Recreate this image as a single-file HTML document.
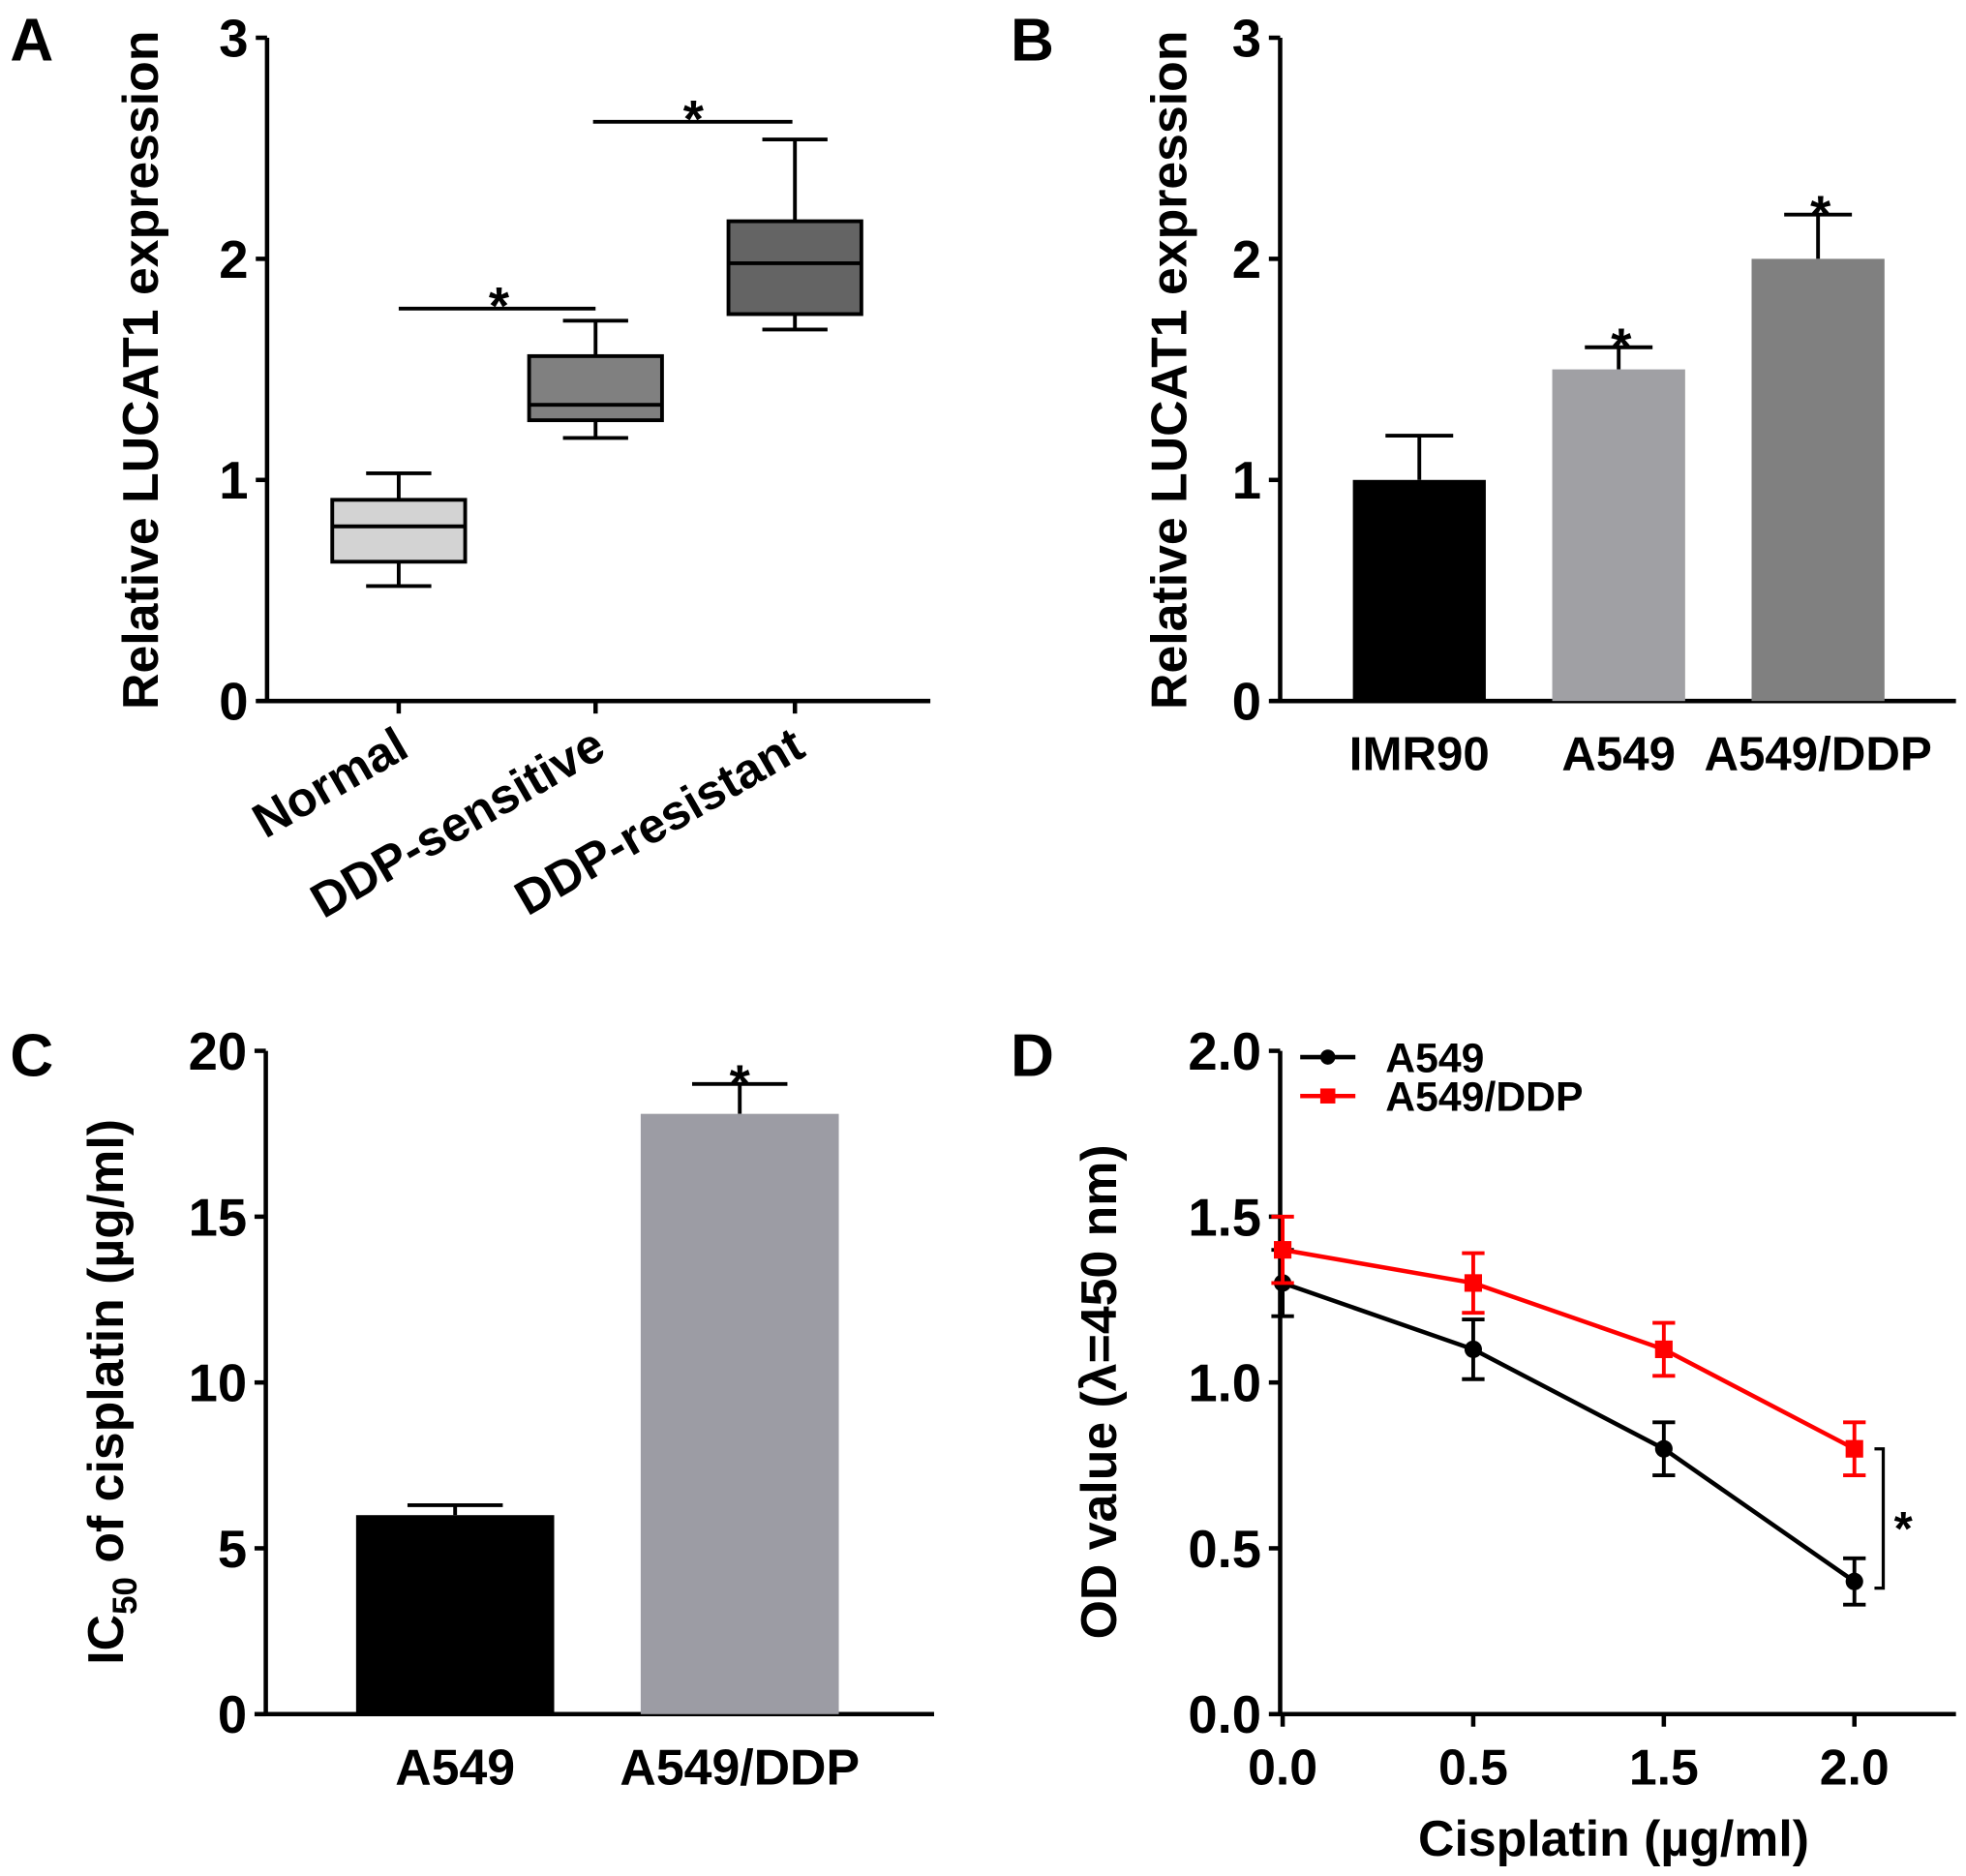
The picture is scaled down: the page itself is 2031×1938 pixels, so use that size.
<!DOCTYPE html>
<html><head><meta charset="utf-8"><style>
html,body{margin:0;padding:0;background:#fff;}
svg{display:block;font-family:"Liberation Sans",Arial,sans-serif;font-weight:bold;}
</style></head><body>
<svg id="fig" width="2031" height="1938" viewBox="0 0 1568 1496" xmlns="http://www.w3.org/2000/svg"></svg>
<script>
// Panel A data (box plot)
const aCats = ["Normal","DDP-sensitive","DDP-resistant"];
const aMin = [0.52,1.19,1.68];
const aQ1 = [0.63,1.27,1.75];
const aMed = [0.79,1.34,1.98];
const aQ3 = [0.91,1.56,2.17];
const aMax = [1.03,1.72,2.54];
const aTicks = [0,1,2,3];
// Panel B data
const bCats = ["IMR90","A549","A549/DDP"];
const bVals = [1.0,1.5,2.0];
const bErr = [0.2,0.1,0.2];
const bTicks = [0,1,2,3];
// Panel C data
const cCats = ["A549","A549/DDP"];
const cVals = [6.0,18.1];
const cErr = [0.3,0.9];
const cTicks = [0,5,10,15,20];
// Panel D data
const dX = ["0.0","0.5","1.5","2.0"];
const dA549 = [1.3,1.1,0.8,0.4];
const dA549Err = [0.1,0.09,0.08,0.07];
const dDDP = [1.4,1.3,1.1,0.8];
const dDDPErr = [0.1,0.09,0.08,0.08];
const dTicks = ["0.0","0.5","1.0","1.5","2.0"];

const NS="http://www.w3.org/2000/svg";
const svg=document.getElementById('fig');
function mk(tag,attrs,parent,text){const e=document.createElementNS(NS,tag);for(const k in attrs)e.setAttribute(k,attrs[k]);if(text!==undefined)e.textContent=text;(parent||svg).appendChild(e);return e;}
function line(x1,y1,x2,y2,c,w,p){return mk('line',{x1,y1,x2,y2,stroke:c||'#000','stroke-width':w||3},p);}

function axes(g,ax,top,bot,right,ticks,tmax){
  const y=v=>bot-(bot-top)*v/tmax;
  const yl=line(ax,top,ax,bot,'#000',3.5,g);
  
  
  const xl=line(ax-8,bot,right,bot,'#000',3.5,g);
  
  
  ticks.forEach(t=>{const v=parseFloat(t);line(ax-9,y(v),ax,y(v),'#000',3.5,g);
    const tx=mk('text',{x:ax-15,y:y(v)+15,'text-anchor':'end','font-size':42},g,t);
    
    });
  return y;
}

// ---------- Panel A
(function(){
  const g=mk('g',{});
  
  
  mk('text',{x:8,y:48,'font-size':48},g,'A');
  const y=axes(g,213,30,559,742,aTicks,3);
  const xs=[318,475,634];const hw=53;
  const fills=['#d3d3d3','#808080','#646464'];
  aCats.forEach((c,i)=>{
    const x=xs[i];
    line(x,559,x,569,'#000',3.5,g);
    line(x,y(aMax[i]),x,y(aQ3[i]),'#000',3,g);
    line(x,y(aQ1[i]),x,y(aMin[i]),'#000',3,g);
    line(x-26,y(aMax[i]),x+26,y(aMax[i]),'#000',3,g);
    line(x-26,y(aMin[i]),x+26,y(aMin[i]),'#000',3,g);
    const r=mk('rect',{x:x-hw,y:y(aQ3[i]),width:hw*2,height:y(aQ1[i])-y(aQ3[i]),fill:fills[i],stroke:'#000','stroke-width':3},g);
    
    
    line(x-hw,y(aMed[i]),x+hw,y(aMed[i]),'#000',3,g);
    const t=mk('text',{x:x+10,y:602,'text-anchor':'end','font-size':39,transform:`rotate(-30 ${x+10} 602)`},g,c);
    
    
  });
  line(318,246,475,246,'#000',3,g);mk('text',{x:398,y:258,'text-anchor':'middle','font-size':42},g,'*');
  line(473,97,632,97,'#000',3,g);mk('text',{x:553,y:109,'text-anchor':'middle','font-size':42},g,'*');
  const t=mk('text',{x:0,y:0,'text-anchor':'middle','font-size':40,transform:'translate(126 295) rotate(-90)'},g,'Relative LUCAT1 expression');
  
  
})();

// ---------- Panel B
(function(){
  const g=mk('g',{});
  
  
  mk('text',{x:806,y:48,'font-size':48},g,'B');
  const y=axes(g,1021,30,559,1560,bTicks,3);
  const xs=[1132,1291,1450];const hw=53;
  const fills=['#000','#a0a0a4','#808080'];
  bCats.forEach((c,i)=>{
    const x=xs[i];
    line(x,y(bVals[i]),x,y(bVals[i]+bErr[i]),'#000',3,g);
    line(x-27,y(bVals[i]+bErr[i]),x+27,y(bVals[i]+bErr[i]),'#000',3,g);
    const r=mk('rect',{x:x-hw,y:y(bVals[i]),width:hw*2,height:559-y(bVals[i]),fill:fills[i]},g);
    
    
    if(i>0)mk('text',{x:x+2,y:y(bVals[i]+bErr[i])+14,'text-anchor':'middle','font-size':42},g,'*');
    const t=mk('text',{x:x,y:614,'text-anchor':'middle','font-size':38},g,c);
    
    
  });
  const t=mk('text',{x:0,y:0,'text-anchor':'middle','font-size':40,transform:'translate(946 295) rotate(-90)'},g,'Relative LUCAT1 expression');
  
  
})();

// ---------- Panel C
(function(){
  const g=mk('g',{});
  
  
  mk('text',{x:8,y:858,'font-size':48},g,'C');
  const y=axes(g,212,838,1367,745,cTicks,20);
  const xs=[363,590];const hw=79;
  const fills=['#000','#9c9ca4'];
  cCats.forEach((c,i)=>{
    const x=xs[i];
    line(x,y(cVals[i]),x,y(cVals[i]+cErr[i]),'#000',3,g);
    line(x-38,y(cVals[i]+cErr[i]),x+38,y(cVals[i]+cErr[i]),'#000',3,g);
    const r=mk('rect',{x:x-hw,y:y(cVals[i]),width:hw*2,height:1367-y(cVals[i]),fill:fills[i]},g);
    
    
    if(i>0)mk('text',{x:x,y:y(cVals[i]+cErr[i])+14,'text-anchor':'middle','font-size':42},g,'*');
    const t=mk('text',{x:x,y:1423,'text-anchor':'middle','font-size':40},g,c);
    
    
  });
  const t=mk('text',{x:0,y:0,'text-anchor':'middle','font-size':40,transform:'translate(98 1110) rotate(-90)'},g);
  
  
  mk('tspan',{},t,'IC');mk('tspan',{'font-size':27,dy:11},t,'50');mk('tspan',{dy:-11},t,' of cisplatin (µg/ml)');
})();

// ---------- Panel D
(function(){
  const g=mk('g',{});
  
  
  mk('text',{x:806,y:858,'font-size':48},g,'D');
  const y=axes(g,1021,838,1367,1560,dTicks,2);
  const xs=dX.map((d,i)=>1023+i*152);
  dX.forEach((d,i)=>{line(xs[i],1367,xs[i],1377,'#000',3.5,g);
    const t=mk('text',{x:xs[i],y:1423,'text-anchor':'middle','font-size':40},g,d);
    
    });
  function series(vals,errs,col,name,sq){
    const sg=mk('g',{},g);
    
    
    vals.forEach((v,i)=>{line(xs[i],y(v-errs[i]),xs[i],y(v+errs[i]),col,3,sg);
      line(xs[i]-9,y(v-errs[i]),xs[i]+9,y(v-errs[i]),col,3,sg);
      line(xs[i]-9,y(v+errs[i]),xs[i]+9,y(v+errs[i]),col,3,sg);});
    mk('polyline',{points:vals.map((v,i)=>xs[i]+','+y(v)).join(' '),fill:'none',stroke:col,'stroke-width':3.5},sg);
    vals.forEach((v,i)=>{ if(sq)mk('rect',{x:xs[i]-7,y:y(v)-7,width:14,height:14,fill:col},sg); else mk('circle',{cx:xs[i],cy:y(v),r:7,fill:col},sg);});
  }
  series(dA549,dA549Err,'#000','a549',false);
  series(dDDP,dDDPErr,'#ff0000','a549-ddp',true);
  const lg=mk('g',{},g);
  
  
  line(1037,843,1081,843,'#000',3.5,lg);mk('circle',{cx:1059,cy:843,r:6,fill:'#000'},lg);
  mk('text',{x:1105,y:855,'font-size':33},lg,'A549');
  line(1037,874,1081,874,'#f00',3.5,lg);mk('rect',{x:1053,y:868,width:12,height:12,fill:'#f00'},lg);
  mk('text',{x:1105,y:886,'font-size':33},lg,'A549/DDP');
  mk('polyline',{points:`1495,${y(0.8)} 1502,${y(0.8)} 1502,${y(0.38)} 1495,${y(0.38)}`,fill:'none',stroke:'#000','stroke-width':2.5},g);
  mk('text',{x:1518,y:1232,'text-anchor':'middle','font-size':38},g,'*');
  const xt=mk('text',{x:1287,y:1480,'text-anchor':'middle','font-size':40},g,'Cisplatin (µg/ml)');
  
  
  const t=mk('text',{x:0,y:0,'text-anchor':'middle','font-size':40,transform:'translate(890 1110) rotate(-90)'},g,'OD value (λ=450 nm)');
  
  
})();
</script>
</body></html>
